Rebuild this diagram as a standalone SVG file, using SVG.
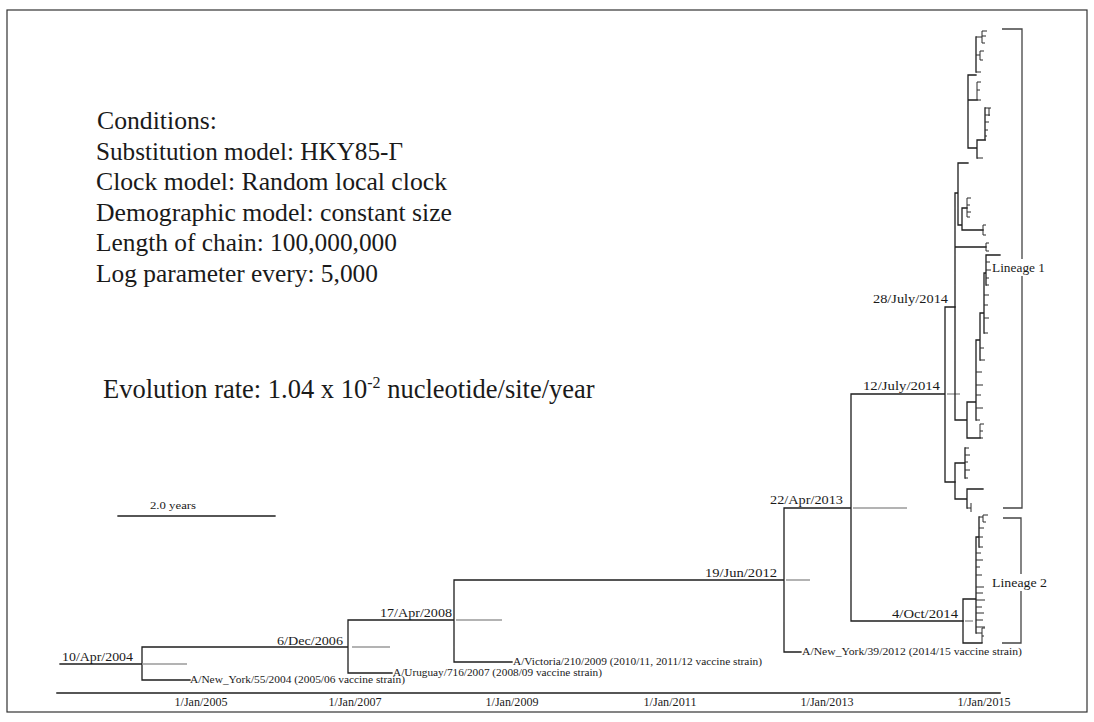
<svg xmlns="http://www.w3.org/2000/svg" width="1094" height="722" viewBox="0 0 1094 722">
<style>
.br{fill:none;stroke:#1e1e1e;stroke-width:1.3;stroke-linecap:square}
.tw{fill:none;stroke:#2a2a2a;stroke-width:1}
.hpd{fill:none;stroke:#9a9a9a;stroke-width:1.3}
.brk{fill:none;stroke:#444;stroke-width:1.3}
.big{font-family:"Liberation Serif","Times New Roman",serif;font-size:25.5px;fill:#1a1a1a}
.nl{font-family:"Liberation Serif","Times New Roman",serif;font-size:13px;fill:#1a1a1a}
.tl{font-family:"Liberation Serif","Times New Roman",serif;font-size:10px;fill:#1a1a1a}
.ax{font-family:"Liberation Serif","Times New Roman",serif;font-size:11.5px;fill:#1a1a1a}
</style>
<rect x="0" y="0" width="1094" height="722" fill="#ffffff"/>
<g id="frame"><rect x="7" y="10" width="1080" height="702" fill="none" stroke="#333" stroke-width="1.2"/></g>

<g id="conditions">
<text class="big" x="97" y="129" textLength="120" lengthAdjust="spacingAndGlyphs">Conditions:</text>
<text class="big" x="96" y="159.5" textLength="307" lengthAdjust="spacingAndGlyphs">Substitution model: HKY85-Γ</text>
<text class="big" x="96" y="190" textLength="351" lengthAdjust="spacingAndGlyphs">Clock model: Random local clock</text>
<text class="big" x="96" y="220.5" textLength="356" lengthAdjust="spacingAndGlyphs">Demographic model: constant size</text>
<text class="big" x="96" y="251" textLength="301" lengthAdjust="spacingAndGlyphs">Length of chain: 100,000,000</text>
<text class="big" x="96" y="281.5" textLength="282" lengthAdjust="spacingAndGlyphs">Log parameter every: 5,000</text>
</g>

<g id="evolution-rate">
<text class="big" x="103" y="398" style="font-size:26.5px">Evolution rate: 1.04 x 10<tspan dy="-10" style="font-size:16px">-2</tspan><tspan dy="10"> nucleotide/site/year</tspan></text>
</g>

<g id="scale-bar">
<text class="tl" x="173" y="509" text-anchor="middle" textLength="46" lengthAdjust="spacingAndGlyphs">2.0 years</text>
<path class="br" d="M118,516 H275"/>
</g>

<g id="axis">
<path class="br" d="M57,693 H1000" style="stroke-width:1.5"/>
<text class="ax" x="201" y="706" text-anchor="middle" textLength="53" lengthAdjust="spacingAndGlyphs">1/Jan/2005</text>
<text class="ax" x="355" y="706" text-anchor="middle" textLength="53" lengthAdjust="spacingAndGlyphs">1/Jan/2007</text>
<text class="ax" x="512" y="706" text-anchor="middle" textLength="53" lengthAdjust="spacingAndGlyphs">1/Jan/2009</text>
<text class="ax" x="670" y="706" text-anchor="middle" textLength="53" lengthAdjust="spacingAndGlyphs">1/Jan/2011</text>
<text class="ax" x="827" y="706" text-anchor="middle" textLength="53" lengthAdjust="spacingAndGlyphs">1/Jan/2013</text>
<text class="ax" x="984" y="706" text-anchor="middle" textLength="53" lengthAdjust="spacingAndGlyphs">1/Jan/2015</text>
</g>

<g id="connectors">
<path class="br" d="M60,664 H142 M142,647 V680 M142,647 H348 M142,680 H190 M348,620 V673 M348,620 H454 M348,673 H392 M454,580 V662 M454,580 H784 M454,662 H512 M784,508 V652 M784,508 H851 M784,652 H801 M851,394 V621 M851,394 H945 M851,621 H963 M945,307 V482 M945,307 H955 M945,482 H955"/>
<path class="hpd" d="M142,664 H187 M352,647 H390 M456,620 H502 M786,580 H810 M853,508 H907 M947,394 H960 M965,621 H973"/>
<!-- lineage 1 subtree -->
<path class="br" d="M955,193 V420 M955,193 H958 M958,163 V225 M958,163 H968 M968,75 V148 M968,75 H976 M976,37 V72 M968,100 H977 M968,148 H977 M977,140 V158 M977,140 H985 M985,108 V140 M958,225 H962 M962,208 V230 M962,208 H967 M962,230 H983 M955,247 H986 M955,420 H967 M967,402 V438 M967,402 H976 M976,340 V420 M976,340 H980 M980,313 V360 M980,313 H984 M984,273 V333 M984,273 H986 M986,255 V285 M986,255 H1000 M967,438 H980"/>
<path class="tw" d="M976,37 H982 M982,31 V43 M982,31 H987 M982,36 H986 M982,43 H985 M976,55 H980 M980,51 V60 M980,51 H984 M980,60 H983 M976,72 H981 M977,82 V100 M977,82 H981 M977,90 H980 M977,100 H981 M985,108 H991 M989,108 V116 M985,115 H990 M985,122 H989 M985,130 H988 M985,136 H987 M985,140 H986 M977,158 H983 M967,198 V217 M967,198 H971 M967,205 H970 M967,212 H971 M967,217 H970 M983,225 V235 M983,225 H986 M983,235 H986 M986,243 V251 M986,243 H989 M986,251 H989 M986,262 H990 M986,270 H991 M986,278 H989 M986,285 H989 M984,295 H989 M984,305 H988 M984,318 H989 M984,333 H988 M980,348 H984 M980,360 H985 M976,372 H982 M976,385 H983 M976,395 H981 M976,408 H983 M976,420 H980 M980,424 V438 M980,424 H984 M980,431 H983 M980,438 H983"/>
<!-- 12/July lower subtree -->
<path class="br" d="M955,463 V499 M955,463 H965 M965,448 V478 M955,499 H967 M967,489 V508 M967,489 H983"/>
<path class="tw" d="M965,448 H969 M965,455 H970 M965,462 H968 M965,470 H970 M965,478 H968 M967,508 H971 M971,503 V512"/>
<!-- lineage 2 subtree -->
<path class="br" d="M963,599 V643 M963,599 H976 M976,537 V633 M976,537 H979 M979,517 V547 M963,643 H982"/>
<path class="tw" d="M979,517 H983 M983,515 V522 M983,515 H988 M983,522 H986 M979,528 H984 M979,537 H983 M979,547 H983 M976,553 H981 M976,560 H983 M976,567 H980 M976,575 H982 M976,587 H984 M976,593 H983 M976,600 H985 M976,607 H982 M976,613 H984 M976,620 H983 M976,627 H985 M976,633 H982 M982,628 V643 M982,628 H985 M982,636 H984"/>
</g>

<g id="node-10apr2004"><text class="nl" x="133" y="661" text-anchor="end" textLength="71" lengthAdjust="spacingAndGlyphs">10/Apr/2004</text></g>
<g id="node-6dec2006"><text class="nl" x="343" y="645" text-anchor="end" textLength="66" lengthAdjust="spacingAndGlyphs">6/Dec/2006</text></g>
<g id="node-17apr2008"><text class="nl" x="452" y="617" text-anchor="end" textLength="72" lengthAdjust="spacingAndGlyphs">17/Apr/2008</text></g>
<g id="node-19jun2012"><text class="nl" x="777" y="577" text-anchor="end" textLength="72" lengthAdjust="spacingAndGlyphs">19/Jun/2012</text></g>
<g id="node-22apr2013"><text class="nl" x="843" y="504" text-anchor="end" textLength="73" lengthAdjust="spacingAndGlyphs">22/Apr/2013</text></g>
<g id="node-12jul2014"><text class="nl" x="940" y="390" text-anchor="end" textLength="77" lengthAdjust="spacingAndGlyphs">12/July/2014</text></g>
<g id="node-28jul2014"><text class="nl" x="948" y="303" text-anchor="end" textLength="75" lengthAdjust="spacingAndGlyphs">28/July/2014</text></g>
<g id="node-4oct2014"><text class="nl" x="958" y="618" text-anchor="end" textLength="66" lengthAdjust="spacingAndGlyphs">4/Oct/2014</text></g>

<g id="tip-ny55"><text class="tl" x="190" y="683" textLength="215" lengthAdjust="spacingAndGlyphs">A/New_York/55/2004 (2005/06 vaccine strain)</text></g>
<g id="tip-uruguay"><text class="tl" x="393" y="676" textLength="209" lengthAdjust="spacingAndGlyphs">A/Uruguay/716/2007 (2008/09 vaccine strain)</text></g>
<g id="tip-victoria"><text class="tl" x="513" y="665" textLength="249" lengthAdjust="spacingAndGlyphs">A/Victoria/210/2009 (2010/11, 2011/12 vaccine strain)</text></g>
<g id="tip-ny39"><text class="tl" x="802" y="655" textLength="220" lengthAdjust="spacingAndGlyphs">A/New_York/39/2012 (2014/15 vaccine strain)</text></g>

<g id="lineage-1">
<path class="brk" d="M1002,29 H1022 V508 H1003"/>
<rect x="991" y="259" width="57" height="17" fill="#fff"/>
<text class="nl" x="992" y="272" textLength="53" lengthAdjust="spacingAndGlyphs">Lineage 1</text>
</g>
<g id="lineage-2">
<path class="brk" d="M1003,518 H1021 V643 H1002"/>
<rect x="991" y="574" width="58" height="17" fill="#fff"/>
<text class="nl" x="992" y="587" textLength="55" lengthAdjust="spacingAndGlyphs">Lineage 2</text>
</g>
</svg>
